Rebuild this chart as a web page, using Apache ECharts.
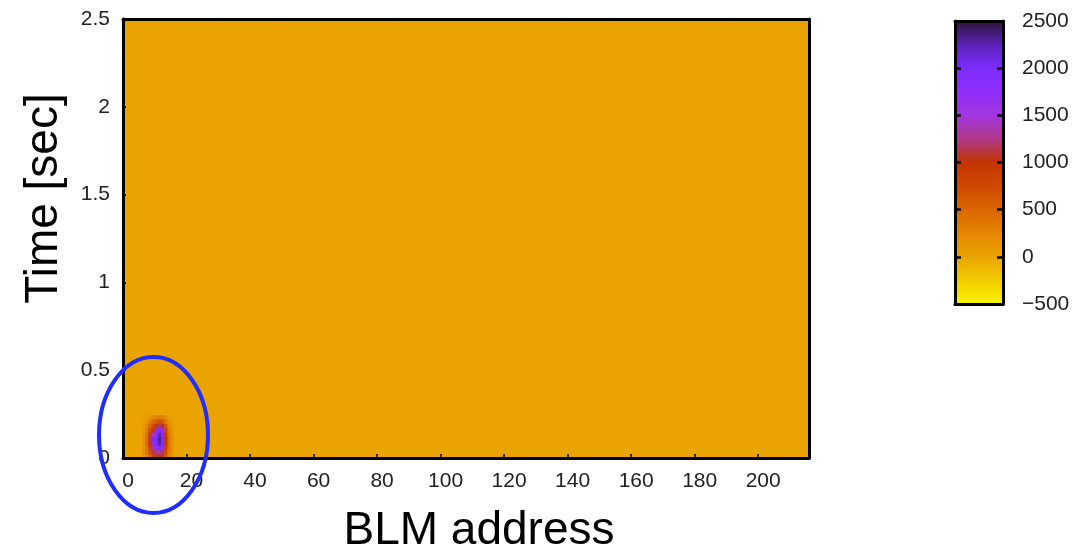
<!DOCTYPE html>
<html><head><meta charset="utf-8">
<script src="https://cdn.jsdelivr.net/npm/echarts@6/dist/echarts.min.js"></script>
<style>html,body{margin:0;padding:0;background:#fff}#c{width:1090px;height:556px}</style>
</head><body><div id="c"></div>
<script>
// ---- data ----
const addressCount = 216;          // BLM addresses 0..215
const timeStep = 0.025;            // seconds per time bin
const timeBinCount = 100;          // 0 .. 2.5 s
const backgroundLevel = 0;         // flat signal level everywhere else
const spotFirstAddress = 6;        // first address column of the loss spot
// rows = time bins 0..9 (from t=0 upward), columns = addresses 6..15
const spotRows = [
  [100, 250,  500,  800,  950, 1000,  900,  550, 250, 100],
  [150, 350,  700, 1100, 1300, 1300, 1150,  700, 300, 120],
  [150, 400,  850, 1400, 1800, 1900, 1700,  850, 350, 150],
  [150, 450, 1000, 1800, 1950, 2250, 1900,  950, 400, 150],
  [150, 450, 1100, 1900, 1900, 2300, 2000, 1000, 400, 150],
  [130, 400,  900, 1500, 1850, 2200, 1900,  950, 350, 130],
  [100, 300,  700, 1000, 1700, 1900, 1700,  800, 300, 100],
  [ 80, 220,  500,  750, 1000, 1200, 1050,  600, 220,  80],
  [ 50, 130,  280,  450,  600,  700,  600,  330, 130,  50],
  [ 20,  60,  130,  220,  280,  320,  280,  160,  60,  20]
];
const xTicks = [0, 20, 40, 60, 80, 100, 120, 140, 160, 180, 200];
const yTicks = [0, 0.5, 1, 1.5, 2, 2.5];
const colorbarTicks = [-500, 0, 500, 1000, 1500, 2000, 2500];
const colorMin = -500, colorMax = 2500;
const paletteColors = ['#f8f400','#f2cc00','#eaa400','#e38600','#da6600','#cf4a00','#c23400',
                       '#b03888','#a236e0','#8e2ef8','#7c2cff','#5a22b8','#2e1436'];

// ---- build cells ----
const cells = [];
for (let a = 0; a < addressCount; a++) {
  for (let k = 0; k < timeBinCount; k++) {
    let v = backgroundLevel;
    const c = a - spotFirstAddress;
    if (k < spotRows.length && c >= 0 && c < spotRows[k].length) v = spotRows[k][c];
    cells.push([a, k * timeStep, v]);
  }
}

const labelFont = {fontFamily: 'Liberation Sans', fontSize: 21, color: '#222'};
const chart = echarts.init(document.getElementById('c'), null, {renderer: 'canvas'});
const stops = paletteColors.map((c, i) => ({offset: i / (paletteColors.length - 1), color: c}));

chart.setOption({
  animation: false,
  backgroundColor: '#fff',
  grid: [
    {left: 123, top: 19, width: 686, height: 439, containLabel: false, outerBoundsMode: 'none'},
    {left: 955, top: 21, width: 48, height: 283, containLabel: false, outerBoundsMode: 'none'}
  ],
  xAxis: [
    {type: 'value', gridIndex: 0, min: 0, max: addressCount, z: 10,
     name: 'BLM address', nameLocation: 'middle', nameGap: 50,
     nameTextStyle: {fontFamily: 'Liberation Sans', fontSize: 46, color: '#000', padding: [0, 0, 0, 26]},
     axisLine: {show: true, onZero: false, lineStyle: {color: '#000', width: 3}},
     axisTick: {show: true, inside: true, length: 4, customValues: xTicks, lineStyle: {color: '#000', width: 1.5}},
     axisLabel: Object.assign({margin: 13, customValues: xTicks, padding: [0, 0, 0, 10]}, labelFont),
     splitLine: {show: false}},
    {type: 'value', gridIndex: 0, position: 'top', min: 0, max: addressCount, z: 10,
     axisLine: {show: true, onZero: false, lineStyle: {color: '#000', width: 3}},
     axisTick: {show: false}, axisLabel: {show: false}, splitLine: {show: false}},
    {type: 'value', gridIndex: 1, min: 0, max: 1, z: 10,
     axisLine: {show: true, onZero: false, lineStyle: {color: '#000', width: 3}},
     axisTick: {show: false}, axisLabel: {show: false}, splitLine: {show: false}},
    {type: 'value', gridIndex: 1, position: 'top', min: 0, max: 1, z: 10,
     axisLine: {show: true, onZero: false, lineStyle: {color: '#000', width: 3}},
     axisTick: {show: false}, axisLabel: {show: false}, splitLine: {show: false}}
  ],
  yAxis: [
    {type: 'value', gridIndex: 0, min: 0, max: 2.5, interval: 0.5, z: 10,
     name: 'Time [sec]', nameLocation: 'middle', nameGap: 56,
     nameTextStyle: {fontFamily: 'Liberation Sans', fontSize: 46, color: '#000', padding: [0, 0, 0, 80]},
     axisLine: {show: true, onZero: false, lineStyle: {color: '#000', width: 3}},
     axisTick: {show: true, inside: true, length: 3, lineStyle: {color: '#000', width: 1.5}},
     axisLabel: Object.assign({margin: 13, customValues: yTicks, formatter: v => String(v)}, labelFont),
     splitLine: {show: false}},
    {type: 'value', gridIndex: 0, position: 'right', min: 0, max: 2.5, z: 10,
     axisLine: {show: true, onZero: false, lineStyle: {color: '#000', width: 3}},
     axisTick: {show: false}, axisLabel: {show: false}, splitLine: {show: false}},
    {type: 'value', gridIndex: 1, position: 'right', min: colorMin, max: colorMax, interval: 500, z: 10,
     axisLine: {show: true, onZero: false, lineStyle: {color: '#000', width: 3}},
     axisTick: {show: true, inside: true, length: 6, customValues: colorbarTicks, lineStyle: {color: '#000', width: 2.5}},
     axisLabel: Object.assign({margin: 19, customValues: colorbarTicks,
       formatter: v => (v < 0 ? '\u2212' + Math.abs(v) : String(v))}, labelFont),
     splitLine: {show: false}},
    {type: 'value', gridIndex: 1, position: 'left', min: colorMin, max: colorMax, interval: 500, z: 10,
     axisLine: {show: true, onZero: false, lineStyle: {color: '#000', width: 3}},
     axisTick: {show: true, inside: true, length: 6, customValues: colorbarTicks, lineStyle: {color: '#000', width: 2.5}},
     axisLabel: {show: false}, splitLine: {show: false}}
  ],
  visualMap: {
    type: 'continuous', show: false, min: colorMin, max: colorMax, dimension: 2, seriesIndex: 0,
    inRange: {color: paletteColors}
  },
  series: [
    {
      type: 'custom', xAxisIndex: 0, yAxisIndex: 0, data: cells, encode: {x: 0, y: 1},
      clip: true,
      renderItem: function (params, api) {
        const p0 = api.coord([api.value(0), api.value(1)]);
        const p1 = api.coord([api.value(0) + 1, api.value(1) + timeStep]);
        return {type: 'rect',
          shape: {x: p0[0], y: p1[1], width: p1[0] - p0[0] + 1, height: p0[1] - p1[1] + 1},
          style: {fill: api.visual('color')}};
      }
    },
    {
      type: 'custom', xAxisIndex: 2, yAxisIndex: 2, data: [[0, colorMin, 1, colorMax]], encode: {x: [0, 2], y: [1, 3]},
      renderItem: function (params, api) {
        const p0 = api.coord([api.value(0), api.value(1)]);
        const p1 = api.coord([api.value(2), api.value(3)]);
        return {type: 'rect',
          shape: {x: p0[0], y: p1[1], width: p1[0] - p0[0], height: p0[1] - p1[1]},
          style: {fill: new echarts.graphic.LinearGradient(0, 1, 0, 0, stops)}};
      }
    }
  ],
  graphic: [
    {type: 'ellipse', z: 100, shape: {cx: 153.5, cy: 435, rx: 54.5, ry: 78},
     style: {fill: 'none', stroke: '#1f2dff', lineWidth: 4}}
  ]
});
</script></body></html>
